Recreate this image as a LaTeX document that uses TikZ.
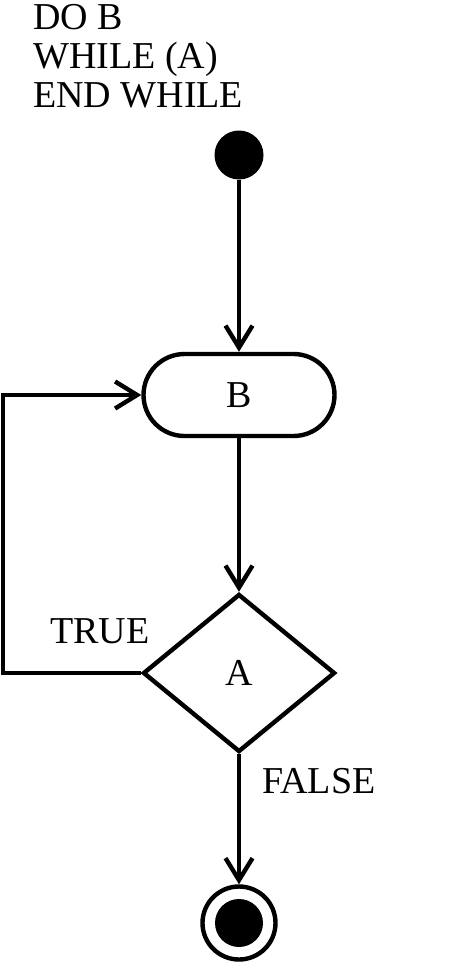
\documentclass[tikz,border=0pt]{standalone}
\usepackage{fontspec}
\setmainfont{Liberation Serif}
\usetikzlibrary{arrows.meta,shapes.geometric}
\begin{document}
\begin{tikzpicture}[x=1pt,y=-1pt,
  every node/.style={font=\fontsize{38}{39}\selectfont},
  thick line/.style={line width=4.4pt},
  flow/.style={thick line, -{Straight Barb[length=22pt,width=27pt]}},
  txt/.style={inner sep=0pt, anchor=base west},
  startdot/.style={circle, fill, minimum size=49pt, inner sep=0pt},
  activity/.style={rectangle, rounded corners=41pt, draw, thick line, minimum width=191pt, minimum height=82pt},
  decision/.style={diamond, draw, thick line, aspect=1, inner sep=0pt, minimum width=192pt, minimum height=158pt},
  endring/.style={circle, draw, thick line, minimum size=73pt, inner sep=0pt},
  enddot/.style={circle, fill, minimum size=48pt, inner sep=0pt}
]
\useasboundingbox (0,0) rectangle (464,970);

\node[txt] (t1) at (33,29) {DO B};
\node[txt] (t2) at (33,68) {WHILE (A)};
\node[txt] (t3) at (33,107) {END WHILE};

\node[startdot] (start) at (239,155) {};
\node[activity] (B) at (239,395) {B};
\node[decision] (A) at (239,673) {\raisebox{-3pt}{A}};
\node[endring] (end) at (239,923) {};
\node[enddot] (endin) at (end.center) {};

\node[txt] (true) at (50,643) {TRUE};
\node[txt] (false) at (262,793) {FALSE};

\coordinate (lc) at (3,0);

\draw[flow] (start) -- (B);
\draw[flow] (B) -- (A);
\draw[flow] (A) -- (end);
\draw[flow] (A.west) -- (A.west -| lc) |- (B.west);
\end{tikzpicture}
\end{document}
